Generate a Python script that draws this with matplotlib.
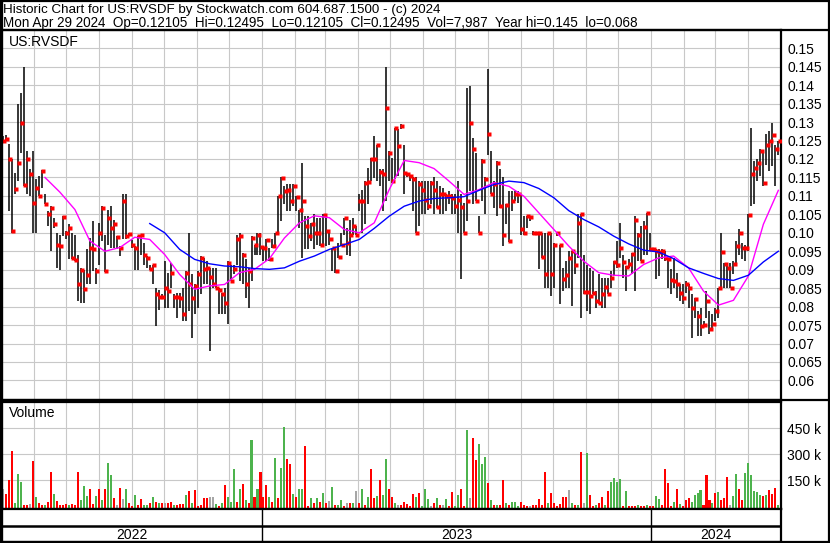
import matplotlib
matplotlib.use("Agg")
import matplotlib.pyplot as plt
import matplotlib.transforms as mtransforms
import numpy as np
import pandas as pd

plt.rcParams['font.family'] = ['Liberation Sans', 'DejaVu Sans']

# one bar per ~2 sessions, prices in 1/10000 $, volume in thousands
high = [1262, 1265, 1240, 1200, 1163, 1350, 1380, 1450, 1221, 1172,
        1221, 1145, 1154, 1170, 1104, 1059, 1072, 1041, 1000, 995,
        1045, 1005, 1023, 1000, 995, 941, 905, 900, 955, 986,
        1032, 905, 1027, 1072, 995, 1063, 1072, 1036, 991, 964,
        1104, 1104, 1000, 980, 964, 991, 995, 973, 937, 914,
        914, 851, 845, 835, 923, 892, 919, 833, 838, 838,
        851, 896, 1000, 887, 860, 896, 937, 932, 923, 905,
        905, 905, 851, 838, 851, 923, 914, 914, 995, 1000,
        946, 928, 905, 991, 968, 1000, 1000, 964, 982, 959,
        982, 1000, 1099, 1150, 1126, 1131, 1131, 1131, 1099, 1063,
        1190, 1045, 1045, 1027, 1050, 1041, 1041, 1050, 1050, 1005,
        959, 959, 973, 1000, 1041, 1014, 1036, 1041, 1018, 1104,
        1117, 1140, 1176, 1203, 1262, 1239, 1172, 1172, 1450, 1221,
        1203, 1285, 1281, 1295, 1239, 1163, 1154, 1150, 1150, 1140,
        1140, 1140, 1140, 1140, 1150, 1140, 1126, 1122, 1104, 1113,
        1104, 1104, 1140, 1104, 1081, 1393, 1398, 1258, 1217, 1045,
        1200, 1150, 1443, 1221, 1140, 1194, 1172, 1150, 1077, 1113,
        1113, 1113, 1113, 1104, 1045, 1045, 1045, 1005, 1003, 1000,
        1000, 1000, 1000, 1000, 973, 1000, 968, 905, 923, 950,
        950, 946, 1050, 1050, 941, 914, 905, 896, 842, 887,
        878, 878, 878, 896, 923, 977, 1027, 941, 910, 930,
        946, 1045, 1000, 1018, 1032, 1054, 1000, 960, 955, 955,
        955, 950, 932, 901, 932, 892, 860, 860, 869, 860,
        833, 824, 788, 797, 761, 842, 788, 779, 797, 851,
        1000, 919, 919, 919, 923, 977, 1009, 973, 968, 1050,
        1283, 1194, 1199, 1226, 1217, 1267, 1276, 1298, 1239, 1250]
low = [1245, 1250, 1059, 1000, 1104, 1140, 1217, 1126, 1104, 1099,
       1000, 1000, 1099, 1122, 1077, 1018, 950, 1014, 905, 900,
       991, 982, 928, 928, 923, 815, 811, 811, 860, 860,
       896, 860, 914, 977, 895, 968, 959, 959, 955, 937,
       982, 982, 991, 960, 900, 900, 941, 914, 905, 900,
       860, 747, 790, 820, 797, 797, 851, 797, 770, 797,
       761, 761, 788, 716, 779, 797, 833, 860, 860, 680,
       851, 851, 779, 779, 779, 752, 869, 887, 914, 869,
       860, 824, 797, 869, 941, 941, 941, 923, 923, 923,
       959, 959, 995, 1032, 1077, 1059, 1059, 1072, 1059, 1014,
       932, 955, 955, 977, 955, 968, 965, 964, 964, 968,
       896, 892, 932, 964, 995, 941, 937, 995, 995, 1059,
       1000, 1023, 1077, 1140, 1149, 1140, 1126, 1059, 1086, 1140,
       1136, 1145, 1154, 1280, 1104, 1150, 1140, 1060, 1000, 1018,
       1050, 1050, 1063, 1077, 1050, 1068, 1050, 1050, 1059, 1077,
       1050, 1050, 1000, 874, 1000, 1032, 1113, 1077, 1086, 1000,
       1086, 1050, 1212, 1104, 1068, 1045, 1068, 964, 1023, 975,
       1059, 1086, 1081, 995, 995, 1014, 1032, 995, 998, 901,
       932, 851, 851, 829, 851, 990, 806, 842, 851, 851,
       801, 887, 932, 770, 833, 788, 779, 833, 797, 806,
       797, 797, 833, 851, 883, 905, 932, 878, 842, 905,
       887, 842, 923, 923, 941, 941, 950, 950, 874, 883,
       928, 923, 851, 833, 851, 824, 815, 806, 838, 797,
       716, 770, 720, 720, 747, 770, 725, 734, 761, 770,
       851, 851, 851, 851, 887, 914, 941, 928, 923, 950,
       1072, 1077, 1140, 1154, 1126, 1185, 1167, 1181, 1126, 1211]
close = [1250, 1255, 1200, 1005, 1120, 1190, 1298, 1130, 1200, 1160,
         1081, 1122, 1099, 1167, 1077, 1050, 1068, 1025, 968, 965,
         1042, 1000, 1014, 932, 925, 860, 900, 847, 885, 960,
         955, 896, 1000, 1068, 896, 1040, 1012, 1025, 988, 959,
         1086, 990, 998, 968, 959, 990, 993, 941, 932, 901,
         912, 835, 826, 826, 851, 842, 892, 826, 826, 824,
         779, 890, 860, 824, 856, 887, 932, 901, 905, 880,
         860, 851, 845, 833, 811, 919, 870, 901, 982, 990,
         941, 860, 896, 986, 966, 995, 961, 959, 980, 928,
         964, 999, 1099, 1148, 1113, 1117, 1086, 1126, 1097, 1061,
         1086, 1018, 990, 1025, 1000, 1000, 967, 1048, 1005, 982,
         959, 896, 934, 968, 1039, 973, 995, 1018, 995, 1086,
         1086, 1136, 1137, 1199, 1199, 1238, 1166, 1158, 1339, 1217,
         1140, 1283, 1235, 1289, 1163, 1158, 1154, 1145, 1000, 1131,
         1117, 1090, 1072, 1136, 1115, 1070, 1104, 1104, 1099, 1099,
         1095, 1072, 1088, 1070, 1000, 1086, 1298, 1226, 1086, 1000,
         1194, 1145, 1267, 1104, 1131, 1190, 1072, 995, 1075, 977,
         1086, 1104, 1106, 1011, 1000, 1045, 1042, 1000, 1000, 1000,
         934, 887, 1000, 887, 968, 1000, 968, 876, 885, 932,
         950, 914, 1027, 1050, 840, 840, 830, 838, 815, 811,
         835, 853, 833, 878, 921, 914, 959, 921, 908, 915,
         943, 1036, 995, 923, 1016, 1054, 955, 955, 950, 948,
         952, 932, 930, 871, 869, 862, 838, 824, 860, 851,
         797, 820, 774, 747, 750, 815, 738, 752, 788, 851,
         948, 916, 905, 851, 916, 964, 1000, 959, 959, 1047,
         1158, 1176, 1190, 1221, 1136, 1238, 1250, 1265, 1226, 1250]
volume = [99, 70, 150, 319, 15, 185, 137, 6, 8, 10,
          261, 54, 15, 8, 6, 25, 199, 70, 31, 6,
          6, 12, 6, 12, 6, 199, 35, 116, 58, 99,
          10, 58, 97, 35, 99, 251, 180, 45, 6, 104,
          39, 99, 15, 3, 64, 6, 39, 6, 6, 15,
          50, 25, 15, 15, 15, 15, 25, 6, 6, 12,
          12, 62, 89, 15, 93, 3, 6, 45, 48, 54,
          54, 12, 3, 15, 122, 54, 25, 215, 25, 97,
          128, 35, 15, 383, 54, 97, 197, 54, 120, 50,
          25, 276, 45, 218, 456, 273, 242, 70, 54, 97,
          97, 348, 3, 45, 15, 45, 25, 77, 15, 31,
          108, 6, 6, 35, 3, 15, 15, 19, 87, 19,
          99, 6, 52, 215, 48, 58, 150, 64, 273, 99,
          54, 15, 6, 6, 25, 10, 3, 70, 54, 73,
          3, 99, 39, 3, 15, 48, 6, 6, 43, 3,
          83, 3, 64, 101, 3, 441, 45, 394, 267, 360,
          243, 284, 135, 33, 6, 6, 6, 150, 15, 6,
          25, 25, 3, 25, 6, 3, 3, 6, 6, 40,
          6, 197, 15, 73, 15, 3, 10, 50, 54, 93,
          15, 6, 6, 313, 15, 305, 64, 3, 6, 15,
          54, 6, 89, 141, 160, 141, 155, 3, 87, 3,
          3, 3, 6, 3, 3, 6, 3, 3, 58, 43,
          6, 215, 131, 3, 23, 101, 12, 3, 35, 45,
          25, 64, 73, 93, 6, 178, 35, 19, 73, 83,
          35, 45, 166, 6, 58, 184, 97, 35, 189, 247,
          180, 85, 83, 64, 58, 62, 93, 70, 106, 6]
# u = close up, d = close down, n = unchanged (one letter per bar)
vol_dir = ("ndddu" "uuddn" "duddu" "ddudd" "ddudd" "duuud" "dudud" "uudnd"
           "nuddu" "dduud" "ududn" "ddudd" "dudud" "ddddn" "nudud" "uuudu"
           "dudud" "udddu" "duduu" "ddudu" "uddud" "ududn" "uduud" "ndund"
           "ududd" "uduud" "dundd" "dddud" "uuund" "udnud" "duudd" "unddu"
           "uudud" "uddud" "uuudd" "dnddd" "ddudd" "ddddn" "ududn" "uddud"
           "duduu" "uudud" "ddudd" "udduu" "ddddu" "duddd" "uuuud" "ddudu"
           "dddnu" "udduu" "uuuud" "udddu")
price_ticks = [0.15, 0.145, 0.14, 0.135, 0.13, 0.125, 0.12, 0.115, 0.11, 0.105,
               0.10, 0.095, 0.09, 0.085, 0.08, 0.075, 0.07, 0.065, 0.06]
price_labels = ['0.15', '0.145', '0.14', '0.135', '0.13', '0.125', '0.12', '0.115',
                '0.11', '0.105', '0.10', '0.095', '0.09', '0.085', '0.08', '0.075',
                '0.07', '0.065', '0.06']
vol_ticks = [150000, 300000, 450000]
vol_labels = ['150 k', '300 k', '450 k']
years = ['2022', '2023', '2024']

# moving averages, every 5th bar
ma_fast = [1150, 1110, 1063, 978, 950, 960, 988, 982, 941, 887,
           847, 856, 860, 892, 901, 930, 986, 1027, 1046, 1041,
           1009, 1000, 1027, 1117, 1196, 1190, 1174, 1140, 1104, 1117,
           1136, 1126, 1099, 1054, 1009, 964, 923, 892, 885, 883,
           914, 932, 937, 905, 842, 804, 817, 883, 1023, 1115]
ma_slow = [1025, 1000, 955, 928, 916, 910, 908, 903, 901, 905,
           923, 937, 955, 968, 982, 1012, 1045, 1072, 1086, 1093,
           1095, 1098, 1115, 1131, 1140, 1136, 1120, 1095, 1060, 1036,
           1016, 991, 970, 953, 948, 930, 905, 890, 876, 871,
           885, 921, 950]

title1 = "Historic Chart for US:RVSDF by Stockwatch.com 604.687.1500 - (c) 2024"
title2 = ("Mon Apr 29 2024  Op=0.12105  Hi=0.12495  Lo=0.12105  Cl=0.12495  "
          "Vol=7,987  Year hi=0.145  lo=0.068")

n = len(close)
dates = pd.date_range('2022-05-03', '2024-04-29', periods=n)
hi = np.array(high) / 10000
lo = np.array(low) / 10000
cl = np.array(close) / 10000
vol = np.array(volume) * 1000
colmap = {'u': '#4db34d', 'd': '#ff0000', 'n': '#a6a6a6'}
vcol = [colmap[c] for c in vol_dir[:n]]

t0 = pd.Timestamp('2022-05-02')
t1 = pd.Timestamp('2024-05-01 12:00')
months = pd.date_range('2022-06-01', '2024-04-01', freq='MS')
ybounds = [t0, pd.Timestamp('2023-01-01'), pd.Timestamp('2024-01-01'), t1]

W, H = 830, 543
fig = plt.figure(figsize=(W / 100, H / 100), dpi=100)


def rect(x0, y0, x1, y1):
    return [x0 / W, 1 - y1 / H, (x1 - x0) / W, (y1 - y0) / H]


grid_kw = dict(color='#c8c8c8', lw=0.8, zorder=0)
lab_size = 10

# price panel
ax = fig.add_axes(rect(2, 30, 781, 400))
ax.set_xlim(t0, t1)
ax.set_ylim(0.15 - (400 - 48.3) / 3690, 0.15 + (48.3 - 30) / 3690)
for m in months:
    ax.axvline(m, **grid_kw)
for p in price_ticks:
    ax.axhline(p, **grid_kw)
ax.vlines(dates, lo, hi, colors='black', lw=1.1, zorder=2)
shifted = mtransforms.offset_copy(ax.transData, fig=fig, x=1.2, y=0, units='dots')
ax.plot(dates, cl, ls='none', marker='s', ms=2.2, mfc='red', mec='none',
        zorder=3, transform=shifted)
ax.plot(dates[14::5][:len(ma_fast)], np.array(ma_fast) / 10000, color='#ff00ff', lw=1, zorder=4)
ax.plot(dates[49::5][:len(ma_slow)], np.array(ma_slow) / 10000, color='#0000ff', lw=1, zorder=4)
ax.yaxis.tick_right()
ax.set_yticks(price_ticks)
ax.set_yticklabels(price_labels)
ax.tick_params(axis='y', length=0, pad=4.5, labelsize=lab_size)
ax.set_xticks([])
ax.text(7 / 779, 1 - 12 / 370, 'US:RVSDF', transform=ax.transAxes, fontsize=lab_size, va='center')

# volume panel
ax2 = fig.add_axes(rect(2, 402, 781, 509))
ax2.set_xlim(t0, t1)
vb = -17000
ax2.set_ylim(vb, 603000)
for m in months:
    ax2.axvline(m, **grid_kw)
for v in vol_ticks:
    ax2.axhline(v, **grid_kw)
ax2.bar(dates, vol - vb, bottom=vb, width=1.9, color=vcol, zorder=2)
ax2.yaxis.tick_right()
ax2.set_yticks(vol_ticks)
ax2.set_yticklabels(vol_labels)
ax2.tick_params(axis='y', length=0, pad=4.5, labelsize=lab_size)
ax2.set_xticks([])
ax2.text(7 / 779, 1 - 11 / 107, 'Volume', transform=ax2.transAxes, fontsize=lab_size, va='center')

# date band
ax3 = fig.add_axes(rect(2, 509, 781, 542))
ax3.set_xlim(t0, t1)
ax3.set_ylim(0, 2)
ax3.axhline(1, color='black', lw=1.8)
for b in ybounds[1:3]:
    ax3.axvline(b, color='black', lw=1)
for k, yr in enumerate(years):
    mid = ybounds[k] + (ybounds[k + 1] - ybounds[k]) / 2
    ax3.text(mid, 0.45, yr, ha='center', va='center', fontsize=lab_size)
ax3.set_xticks([])
ax3.set_yticks([])

for a in (ax, ax2, ax3):
    for s in a.spines.values():
        s.set_color('black')
        s.set_linewidth(1.6)
    a.spines['left'].set_visible(False)

# outer frame and separators, in pixel coordinates
frame = fig.add_axes([0, 0, 1, 1], zorder=10)
frame.set_xlim(0, W)
frame.set_ylim(H, 0)
frame.axis('off')
frame.patch.set_alpha(0)
lk = dict(color='black', lw=1.6, solid_capstyle='butt')
frame.plot([0.8, 0.8], [0, H], color='black', lw=2.4)
frame.plot([W - 1, W - 1], [0, H], **lk)
frame.plot([0, W], [0.8, 0.8], **lk)
frame.plot([0, W], [H - 1, H - 1], **lk)
frame.plot([0, W], [30, 30], **lk)
frame.plot([0, W], [400, 400], **lk)

fig.text(3 / W, 1 - 9.5 / H, title1, fontsize=9.6, va='center')
fig.text(3 / W, 1 - 23 / H, title2, fontsize=9.75, va='center')

fig.savefig('out.png', dpi=100)
